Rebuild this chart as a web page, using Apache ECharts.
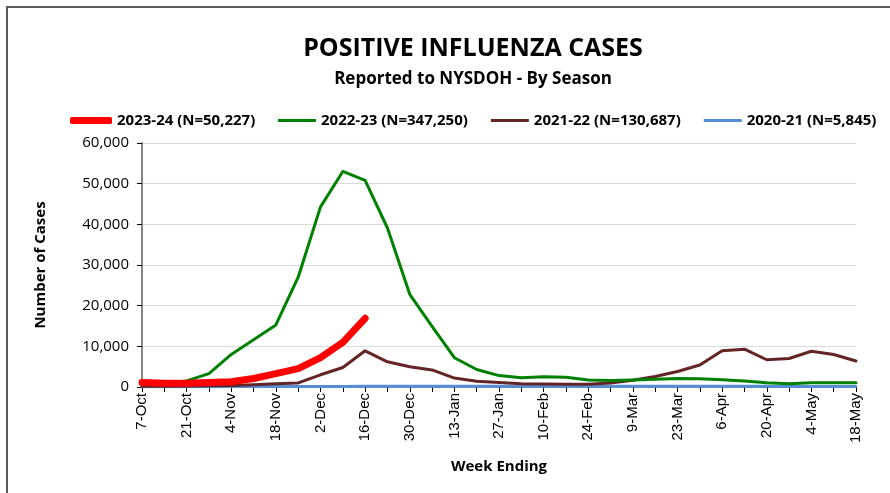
<!DOCTYPE html>
<html>
<head>
<meta charset="utf-8">
<script src="https://cdn.jsdelivr.net/npm/echarts@6/dist/echarts.min.js"></script>
<style>
  html, body { margin: 0; padding: 0; background: #fff; }
  #chart { width: 890px; height: 493px; }
</style>
</head>
<body>
<div id="chart"></div>
<script>
// week ending dates, Oct to May
const weeks = ['7-Oct', '14-Oct', '21-Oct', '28-Oct', '4-Nov', '11-Nov', '18-Nov', '25-Nov',
  '2-Dec', '9-Dec', '16-Dec', '23-Dec', '30-Dec', '6-Jan', '13-Jan', '20-Jan', '27-Jan',
  '3-Feb', '10-Feb', '17-Feb', '24-Feb', '2-Mar', '9-Mar', '16-Mar', '23-Mar', '30-Mar',
  '6-Apr', '13-Apr', '20-Apr', '27-Apr', '4-May', '11-May', '18-May'];

const season2324 = [1100, 900, 950, 1100, 1300, 2100, 3300, 4500, 7200, 11000, 16900];
const season2223 = [650, 800, 1500, 3300, 8000, 11600, 15250, 27000, 44300, 53000, 50800,
  39100, 22800, 14900, 7200, 4300, 2800, 2300, 2500, 2400, 1700, 1600, 1700, 1900, 2100,
  2050, 1800, 1500, 1050, 800, 1050, 1050, 1050];
const season2122 = [200, 200, 250, 300, 350, 550, 800, 1000, 3000, 4800, 8900, 6200, 5000,
  4200, 2200, 1400, 1100, 800, 750, 650, 650, 1000, 1650, 2600, 3800, 5400, 8900, 9300,
  6700, 7000, 8800, 8000, 6400];
const season2021 = [60, 70, 80, 90, 100, 110, 120, 130, 140, 150, 170, 190, 210, 200, 190,
  180, 180, 170, 160, 170, 180, 190, 200, 210, 200, 190, 180, 170, 160, 150, 140, 130, 120];

const seriesNames = ['2023-24 (N=50,227)', '2022-23 (N=347,250)', '2021-22 (N=130,687)', '2020-21 (N=5,845)'];
const yTicks = [0, 10000, 20000, 30000, 40000, 50000, 60000];

const textFont = "'Open Sans', sans-serif";
const legendText = { fontFamily: textFont, fontWeight: 'bold', fontSize: 15, color: '#000' };

let chart = echarts.init(document.getElementById('chart'));

function line(name, data, color, width, z) {
  return {
    name: name, type: 'line', data: data, symbol: 'none', z: z,
    lineStyle: { color: color, width: width, cap: 'round', join: 'round' },
    itemStyle: { color: color }
  };
}

chart.setOption({
  animation: false,
  backgroundColor: '#fff',
  graphic: [{
    type: 'rect', shape: { x: 7, y: 7, width: 900, height: 500 },
    style: { fill: 'none', stroke: '#595959', lineWidth: 2 }, silent: true
  }],
  title: [{
    text: 'POSITIVE INFLUENZA CASES', left: 468, top: 31, textAlign: 'center',
    textStyle: { fontFamily: textFont, fontWeight: 'bold', fontSize: 25, color: '#000' }
  }, {
    text: 'Reported to NYSDOH - By Season', left: 468, top: 66, textAlign: 'center',
    textStyle: { fontFamily: textFont, fontWeight: 'bold', fontSize: 17, color: '#000' }
  }],
  legend: [{
    data: [seriesNames[0]], top: 113, left: 70, padding: 0,
    icon: 'roundRect', itemWidth: 42, itemHeight: 7,
    textStyle: legendText
  }, {
    data: seriesNames.slice(1), top: 113, left: 278, right: 0, padding: 0,
    icon: 'rect', itemWidth: 38, itemHeight: 3, itemGap: 23,
    textStyle: legendText
  }],
  grid: { left: 142, right: 34, top: 143, bottom: 106 },
  xAxis: {
    type: 'category', data: weeks, boundaryGap: false,
    name: 'Week Ending', nameLocation: 'middle', nameGap: 72,
    nameTextStyle: { fontFamily: textFont, fontWeight: 'bold', fontSize: 15, color: '#000' },
    axisLine: { lineStyle: { color: '#868686', width: 1 } },
    axisTick: { interval: 0, length: 5, lineStyle: { color: '#000' } },
    axisLabel: { interval: 1, rotate: 90, fontFamily: 'Liberation Sans', fontSize: 15, color: '#000', margin: 6 }
  },
  yAxis: {
    type: 'value', min: 0, max: 60000, interval: 10000,
    name: 'Number of Cases', nameLocation: 'middle', nameGap: 94,
    nameTextStyle: { fontFamily: textFont, fontWeight: 'bold', fontSize: 15, color: '#000' },
    axisLine: { show: true, lineStyle: { color: '#868686', width: 2 } },
    axisTick: { show: true, length: 5, lineStyle: { color: '#000' } },
    splitLine: { lineStyle: { color: '#d9d9d9', width: 1 } },
    axisLabel: {
      fontFamily: textFont, fontSize: 15, color: '#000', margin: 13,
      formatter: v => yTicks.indexOf(v) >= 0 ? v.toLocaleString('en-US') : ''
    }
  },
  series: [
    line(seriesNames[3], season2021, '#558ed5', 3, 2),
    line(seriesNames[2], season2122, '#632523', 3, 3),
    line(seriesNames[1], season2223, '#008000', 3, 4),
    line(seriesNames[0], season2324, '#ff0000', 7, 5)
  ]
});
</script>
</body>
</html>
